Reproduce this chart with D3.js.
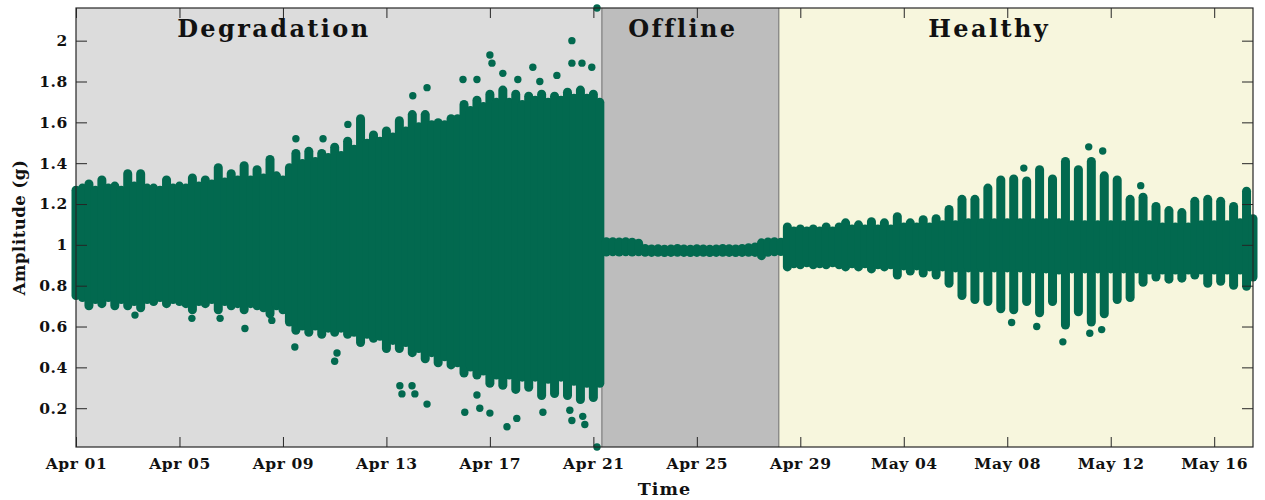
<!DOCTYPE html>
<html>
<head>
<meta charset="utf-8">
<script src="https://cdn.jsdelivr.net/npm/d3@7"></script>
<style>
  body { margin: 0; background: #ffffff; }
  text { font-family: "DejaVu Serif", "Liberation Serif", serif; font-weight: bold; }
</style>
</head>
<body>
<svg id="chart" width="1265" height="500"></svg>
<script>
// ---- data -------------------------------------------------------------
// x axis: days since Apr 01, tick positions and their labels
const tickDays   = [0, 4, 8, 12, 16, 20, 24, 28, 32, 36, 40, 44];
const tickLabels = ["Apr 01", "Apr 05", "Apr 09", "Apr 13", "Apr 17", "Apr 21",
                    "Apr 25", "Apr 29", "May 04", "May 08", "May 12", "May 16"];
const yTicks = [0.2, 0.4, 0.6, 0.8, 1, 1.2, 1.4, 1.6, 1.8, 2];

// operating phases (start/end in days)
const phaseNames = ["Degradation", "Offline", "Healthy"];
const phaseStart = [0, 20.33, 27.17];
const phaseEnd   = [20.33, 27.17, 45.5];

// amplitude envelope (outer extent of the readings), one sample every quarter day
const sampleStep = 0.25;
const ampHigh = [
  // degradation
  1.29,1.30,1.32,1.29,1.34,1.30,1.31,1.29,1.37,1.31,
  1.37,1.30,1.30,1.29,1.34,1.30,1.31,1.30,1.35,1.31,
  1.34,1.32,1.40,1.33,1.37,1.34,1.41,1.34,1.39,1.35,
  1.44,1.36,1.34,1.40,1.47,1.42,1.48,1.43,1.47,1.45,
  1.50,1.46,1.53,1.49,1.64,1.52,1.56,1.53,1.58,1.55,
  1.63,1.58,1.66,1.60,1.66,1.61,1.62,1.61,1.64,1.64,
  1.71,1.68,1.73,1.70,1.76,1.72,1.78,1.72,1.76,1.71,
  1.75,1.73,1.76,1.72,1.75,1.73,1.77,1.74,1.78,1.74,
  1.76,1.72,
  // offline
  1.037,1.037,1.036,1.037,1.035,1.030,1.004,1.002,1.003,1.001,
  1.002,1.004,1.002,1.001,1.003,1.002,1.001,1.002,1.004,1.003,
  1.002,1.004,1.008,1.012,1.032,1.036,1.037,1.035,
  // healthy
  1.11,1.09,1.10,1.09,1.10,1.09,1.11,1.09,1.11,1.13,
  1.10,1.12,1.10,1.135,1.10,1.13,1.10,1.16,1.11,1.13,
  1.11,1.145,1.11,1.15,1.12,1.195,1.12,1.245,1.13,1.245,
  1.13,1.30,1.13,1.34,1.13,1.345,1.13,1.335,1.13,1.39,
  1.13,1.345,1.13,1.43,1.12,1.39,1.12,1.43,1.12,1.36,
  1.12,1.34,1.12,1.245,1.12,1.255,1.12,1.21,1.11,1.19,
  1.11,1.18,1.11,1.235,1.12,1.245,1.12,1.235,1.12,1.21,
  1.13,1.285,1.15
];
const ampLow = [
  // degradation
  0.73,0.72,0.68,0.71,0.69,0.72,0.68,0.71,0.68,0.70,
  0.67,0.71,0.70,0.72,0.69,0.71,0.70,0.69,0.66,0.70,
  0.69,0.71,0.66,0.70,0.68,0.69,0.66,0.69,0.68,0.67,
  0.64,0.68,0.66,0.60,0.56,0.58,0.55,0.58,0.54,0.57,
  0.55,0.57,0.54,0.55,0.50,0.54,0.52,0.53,0.47,0.51,
  0.47,0.50,0.45,0.47,0.42,0.45,0.40,0.43,0.39,0.40,
  0.35,0.38,0.34,0.36,0.30,0.34,0.29,0.34,0.27,0.33,
  0.28,0.33,0.24,0.32,0.25,0.33,0.24,0.31,0.22,0.30,
  0.23,0.30,
  // offline
  0.943,0.944,0.943,0.944,0.943,0.944,0.942,0.941,0.942,0.940,
  0.941,0.942,0.941,0.940,0.941,0.942,0.940,0.941,0.942,0.941,
  0.940,0.941,0.942,0.941,0.925,0.942,0.944,0.945,
  // healthy
  0.87,0.885,0.88,0.89,0.88,0.885,0.88,0.89,0.88,0.87,
  0.885,0.87,0.885,0.86,0.88,0.87,0.88,0.83,0.875,0.85,
  0.875,0.84,0.87,0.83,0.87,0.79,0.865,0.73,0.865,0.71,
  0.865,0.70,0.865,0.665,0.865,0.66,0.865,0.70,0.86,0.645,
  0.86,0.70,0.855,0.585,0.86,0.65,0.86,0.60,0.86,0.64,
  0.86,0.71,0.86,0.72,0.86,0.795,0.855,0.82,0.855,0.81,
  0.855,0.815,0.855,0.83,0.855,0.79,0.855,0.80,0.855,0.78,
  0.855,0.775,0.82
];

// isolated readings outside the envelope (day, amplitude)
const spikeDays = [
  8.50, 9.55, 10.51, 13.02, 13.57, 14.96, 15.50, 16.00, 16.08, 16.50,
  17.08, 17.66, 17.93, 18.59, 19.17, 19.17, 19.56, 19.94, 20.14,
  2.28, 4.48, 5.57, 6.53, 7.57, 8.46, 10.09, 10.00, 12.52, 12.99,
  12.60, 13.10, 13.57, 15.03, 15.50, 15.61, 16.00, 16.66, 17.04, 18.05,
  19.09, 19.17, 19.59, 19.67, 20.14,
  36.64, 39.15, 39.69, 41.16, 36.17, 37.14, 38.15, 39.19, 39.65
];
const spikeAmps = [
  1.52, 1.52, 1.59, 1.73, 1.77, 1.81, 1.81, 1.93, 1.89, 1.84,
  1.81, 1.87, 1.80, 1.83, 2.00, 1.89, 1.89, 1.87, 2.16,
  0.656, 0.64, 0.64, 0.59, 0.63, 0.50, 0.47, 0.43, 0.31, 0.31,
  0.27, 0.27, 0.22, 0.18, 0.265, 0.20, 0.176, 0.109, 0.15, 0.18,
  0.19, 0.14, 0.16, 0.12, 0.01,
  1.376, 1.48, 1.46, 1.29, 0.62, 0.60, 0.525, 0.567, 0.585
];

// ---- layout & style ---------------------------------------------------
const margin = { left: 76, top: 8, right: 12, bottom: 53 };
const W = 1265, H = 500;
const phaseFill = ["#dcdcdc", "#bdbdbd", "#f7f6dd"];
const phaseLabelDay = [7.65, 23.46, 35.3];
const markColor = "#02694f";
const axisColor = "#262626";
const stripW = 9;               // width of each envelope stroke (rounded ends)
const capR = stripW / 2;

const svg = d3.select("#chart");
const x = d3.scaleLinear().domain([0, 45.5]).range([margin.left, W - margin.right]);
const y = d3.scaleLinear().domain([0.01, 2.16]).range([H - margin.bottom, margin.top]);

// phase backgrounds
svg.append("g").selectAll("rect").data(phaseNames).join("rect")
  .attr("x", (d, i) => x(phaseStart[i]))
  .attr("y", y(2.16))
  .attr("width", (d, i) => x(phaseEnd[i]) - x(phaseStart[i]))
  .attr("height", y(0.01) - y(2.16))
  .attr("fill", (d, i) => phaseFill[i]);

// phase boundaries
svg.append("g").selectAll("line").data(phaseStart.slice(1)).join("line")
  .attr("x1", d => x(d)).attr("x2", d => x(d))
  .attr("y1", y(2.16)).attr("y2", y(0.01))
  .attr("stroke", "#6b6b6b").attr("stroke-width", 1);

// envelope: one rounded stroke per sample; the rounded ends stop at low/high
const endTop = (hi, lo) => {
  const a = y(hi), b = y(lo);
  return (b - a) > 2 * capR ? a + capR : (a + b) / 2;
};
const endBottom = (hi, lo) => {
  const a = y(hi), b = y(lo);
  return (b - a) > 2 * capR ? b - capR : (a + b) / 2;
};
svg.append("g").selectAll("line").data(ampHigh).join("line")
  .attr("x1", (d, i) => x(i * sampleStep)).attr("x2", (d, i) => x(i * sampleStep))
  .attr("y1", (d, i) => endBottom(d, ampLow[i]))
  .attr("y2", (d, i) => endTop(d, ampLow[i]))
  .attr("stroke", markColor).attr("stroke-width", stripW).attr("stroke-linecap", "round");

// isolated readings
svg.append("g").selectAll("circle").data(spikeDays).join("circle")
  .attr("cx", d => x(d)).attr("cy", (d, i) => y(spikeAmps[i]))
  .attr("r", 3.7).attr("fill", markColor);

// phase titles
svg.append("g").selectAll("text").data(phaseNames).join("text")
  .attr("x", (d, i) => x(phaseLabelDay[i]))
  .attr("y", y(2.018))
  .attr("text-anchor", "middle")
  .attr("font-size", 24)
  .attr("letter-spacing", 2.4)
  .attr("fill", "#111")
  .text(d => d);

// axes (inward ticks on all four sides)
const styleAxis = g => {
  g.selectAll("path.domain").remove();
  g.selectAll(".tick line").attr("stroke", axisColor).attr("stroke-width", 1);
  g.selectAll(".tick text").attr("fill", "#111")
    .style("font-family", "'DejaVu Serif', serif").style("font-weight", "bold")
    .attr("font-size", 15.5).attr("letter-spacing", 0.6);
};

svg.append("g").attr("transform", `translate(0,${y(0.01)})`)
  .call(d3.axisBottom(x).tickValues(tickDays).tickSizeInner(-10).tickSizeOuter(0)
    .tickPadding(11).tickFormat((d, i) => tickLabels[i]))
  .call(styleAxis);
svg.append("g").attr("transform", `translate(0,${y(2.16)})`)
  .call(d3.axisTop(x).tickValues(tickDays).tickSizeInner(-10).tickSizeOuter(0).tickFormat(""))
  .call(styleAxis);
svg.append("g").attr("transform", `translate(${x(0)},0)`)
  .call(d3.axisLeft(y).tickValues(yTicks).tickSizeInner(-11).tickSizeOuter(0)
    .tickPadding(8).tickFormat(d3.format("~g")))
  .call(styleAxis);
svg.append("g").attr("transform", `translate(${x(45.5)},0)`)
  .call(d3.axisRight(y).tickValues(yTicks).tickSizeInner(-11).tickSizeOuter(0).tickFormat(""))
  .call(styleAxis);

// plot box
svg.append("rect")
  .attr("x", x(0)).attr("y", y(2.16))
  .attr("width", x(45.5) - x(0)).attr("height", y(0.01) - y(2.16))
  .attr("fill", "none").attr("stroke", axisColor).attr("stroke-width", 1.2);

// axis titles
svg.append("text")
  .attr("x", (x(0) + x(45.5)) / 2).attr("y", 495)
  .attr("text-anchor", "middle").attr("font-size", 17.5).attr("letter-spacing", 1)
  .attr("fill", "#111")
  .text("Time");
svg.append("text")
  .attr("transform", `translate(25,${(y(0.01) + y(2.16)) / 2}) rotate(-90)`)
  .attr("text-anchor", "middle").attr("font-size", 16.5).attr("letter-spacing", 0.5)
  .attr("fill", "#111")
  .text("Amplitude (g)");
</script>
</body>
</html>
